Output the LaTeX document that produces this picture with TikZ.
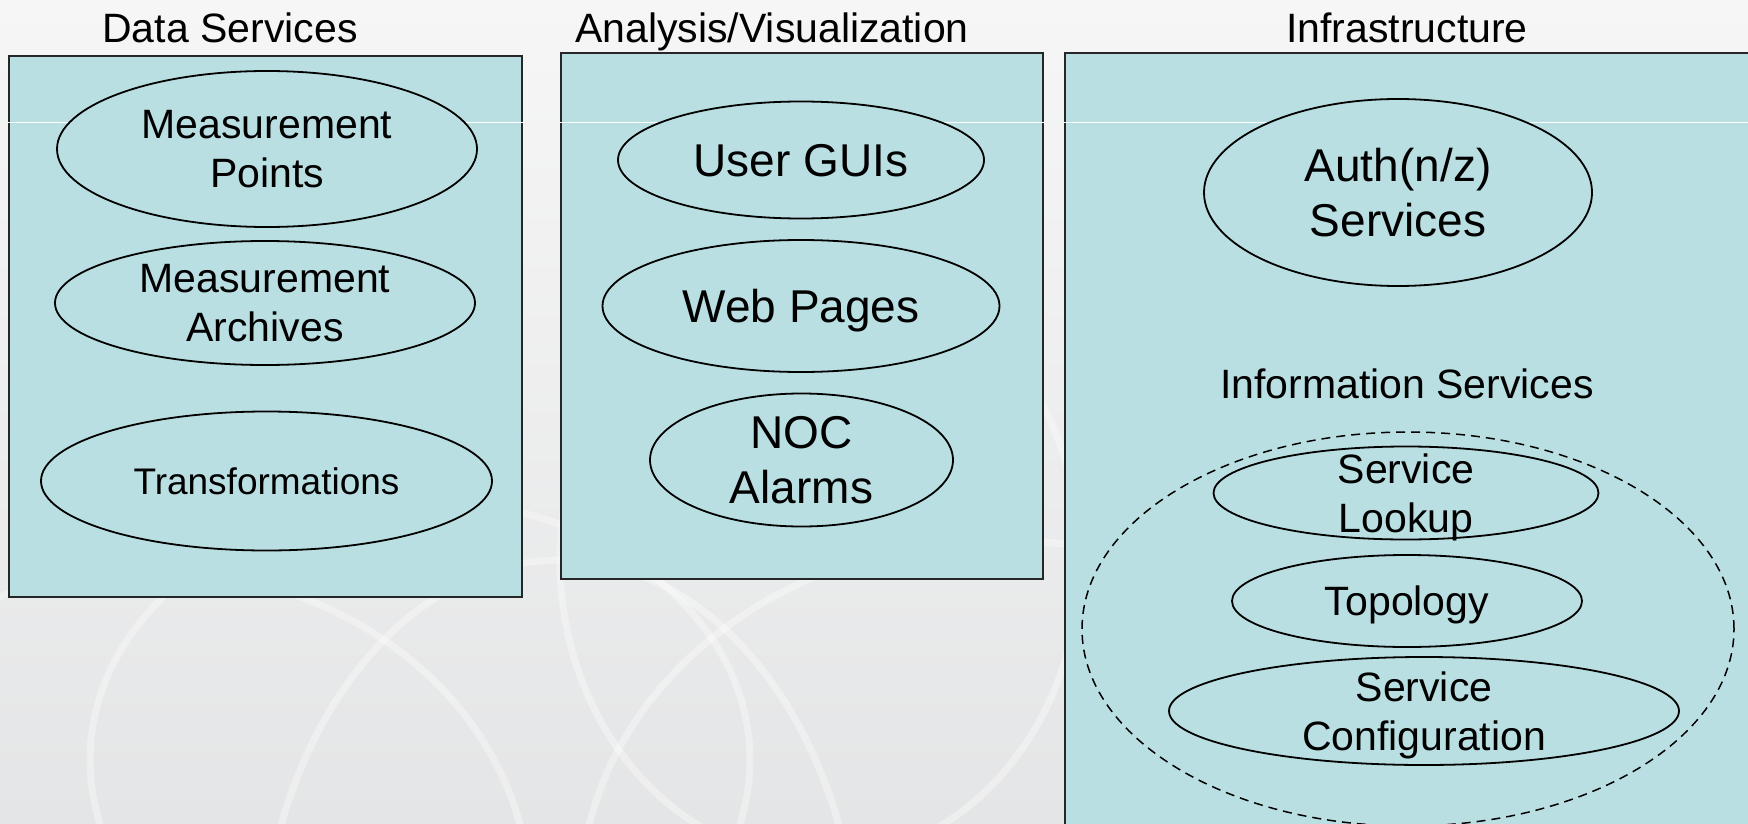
\documentclass[tikz,border=0pt]{standalone}
\usepackage{fontspec}
\setmainfont{Liberation Sans}
\usetikzlibrary{shapes.geometric}
\definecolor{boxfill}{RGB}{185,223,226}
\definecolor{bgtop}{RGB}{246,246,246}
\definecolor{bgbot}{RGB}{228,229,230}
\begin{document}
\begin{tikzpicture}[x=1pt,y=-1pt,
  panel/.style={rectangle,draw=black!85,line width=1.8pt,fill=boxfill,inner sep=0pt},
  ellip/.style={ellipse,draw=black,line width=1.8pt,fill=boxfill,inner xsep=0pt,inner ysep=-30pt,align=center,text depth=0pt},
  fa/.style={font=\fontsize{41}{49}\selectfont},
  fb/.style={font=\fontsize{46}{55}\selectfont},
  fc/.style={font=\fontsize{37}{44}\selectfont},
  title/.style={fa,anchor=base,inner sep=0pt},
  dashring/.style={ellipse,draw=black,line width=1.5pt,dash pattern=on 9pt off 6pt,inner sep=0pt},
  swirl/.style={draw=white,line width=7pt,opacity=0.35}
]
\useasboundingbox (0,0) rectangle (1748,824);
\clip (0,0) rectangle (1748,824);
% background
\shade[top color=bgtop,bottom color=bgbot] (0,0) rectangle (1748,824);
\draw[swirl] (420,760) circle[x radius=330,y radius=260];
\draw[swirl] (820,560) circle[x radius=260,y radius=300];
\draw[swirl] (150,900) circle[x radius=380,y radius=330];
\draw[swirl] (1000,900) circle[x radius=420,y radius=360];
\draw[swirl] (560,980) circle[x radius=300,y radius=420];

% panels
\node[panel,minimum width=513pt,minimum height=541pt] (ds) at (265.5,326.5) {};
\node[panel,minimum width=482pt,minimum height=526pt] (av) at (802,316) {};
\node[panel,minimum width=695pt,minimum height=787pt] (inf) at (1412.5,446.5) {};
\draw[white,line width=1pt] (ds.west |- 0,123) -- (ds.east |- 0,123);
\draw[white,line width=1pt] (av.west |- 0,123) -- (av.east |- 0,123);
\draw[white,line width=1pt] (inf.west |- 0,123) -- (1748,123);

% titles
\node[title] (tds) at (230,43) {Data Services};
\node[title] (tav) at (772,43) {Analysis/Visualization};
\node[title] (tinf) at (1407,43) {Infrastructure};
\node[title] (tis) at (1407,398) {Information Services};

% data services
\node[ellip,fa,minimum width=420pt,minimum height=156pt] (mp) at (267,149) {Measurement\\Points};
\node[ellip,fa,minimum width=420pt,minimum height=124pt] (ma) at (265,303) {Measurement\\Archives};
\node[ellip,fc,minimum width=451pt,minimum height=139pt] (tr) at (266.5,481) {Transformations};

% analysis / visualization
\node[ellip,fb,minimum width=366pt,minimum height=117pt] (ug) at (801,160) {User GUIs};
\node[ellip,fb,minimum width=397pt,minimum height=132pt] (wp) at (801,306) {Web Pages};
\node[ellip,fb,minimum width=303pt,minimum height=133pt] (noc) at (801.5,460) {NOC\\Alarms};

% infrastructure
\node[ellip,fb,minimum width=388pt,minimum height=187pt] (auth) at (1398,192.5) {Auth(n/z)\\Services};
\node[dashring,minimum width=652pt,minimum height=394pt] (ring) at (1408,629) {};
\node[ellip,fa,minimum width=385pt,minimum height=93pt] (sl) at (1406,493) {Service\\Lookup};
\node[ellip,fa,minimum width=350pt,minimum height=92pt] (topo) at (1407,601) {Topology};
\node[ellip,fa,minimum width=510pt,minimum height=108pt] (sc) at (1424,711) {Service\\Configuration};
\end{tikzpicture}
\end{document}
